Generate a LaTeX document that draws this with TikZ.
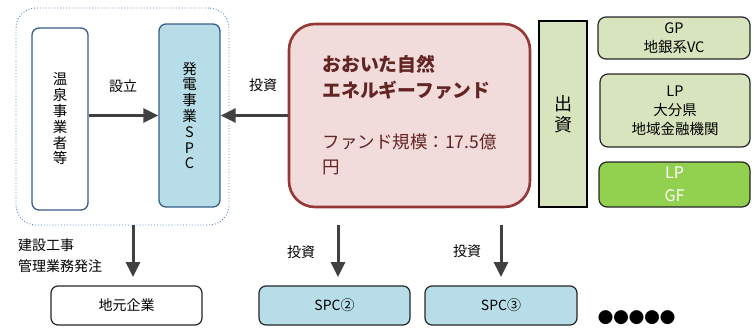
\documentclass[tikz,border=0pt]{standalone}
\usepackage{fontspec}
\setmainfont{Noto Sans CJK JP}
\usetikzlibrary{arrows.meta}
\definecolor{arrowgray}{HTML}{404040}
\definecolor{grpblue}{HTML}{4F81BD}
\definecolor{boxblue}{HTML}{385D8A}
\definecolor{spcfill}{HTML}{B7DEE8}
\definecolor{fundfill}{HTML}{F2DCDB}
\definecolor{funddraw}{HTML}{953735}
\definecolor{fundtext}{HTML}{632523}
\definecolor{greenfill}{HTML}{D7E4BD}
\definecolor{gffill}{HTML}{92D050}
\definecolor{darkline}{HTML}{262626}
\begin{document}
\begin{tikzpicture}[x=1pt,y=-1pt,
  arr/.style={line width=3pt, draw=arrowgray, -{Triangle[length=15pt,width=14pt]}},
  grpbox/.style={draw=grpblue, dotted, line width=0.9pt, rounded corners=20pt, inner sep=0pt},
  vbox/.style={draw=boxblue, line width=1.3pt, rounded corners=7pt, inner sep=0pt, align=center,
    font=\fontsize{14.5}{15.8}\selectfont},
  fundbox/.style={draw=funddraw, fill=fundfill, line width=2.6pt, rounded corners=26pt, inner sep=0pt,
    align=left, text=fundtext, font=\fontsize{17.5}{25.5}\selectfont},
  shbox/.style={draw=black, fill=greenfill, line width=1.8pt, inner sep=0pt, align=center,
    font=\fontsize{18}{21}\selectfont},
  gbox/.style={draw=darkline, fill=greenfill, line width=1.2pt, rounded corners=8pt, inner sep=0pt,
    align=center, font=\fontsize{14.5}{19}\selectfont},
  bbox/.style={draw=darkline, line width=1.2pt, rounded corners=7pt, inner sep=0pt,
    minimum width=151pt, minimum height=39pt, font=\fontsize{14}{16}\selectfont},
  lbl/.style={inner sep=0pt, font=\fontsize{14}{21}\selectfont}
]
\useasboundingbox (0,0) rectangle (754,327);

% group
\node[grpbox, minimum width=213pt, minimum height=217pt] (grp) at (122.5,116.5) {};
\node[vbox, fill=white, minimum width=56pt, minimum height=182pt] (onsen) at (60,119)
  {温\\泉\\事\\業\\者\\等};
\node[vbox, fill=spcfill, minimum width=61pt, minimum height=183pt] (spc) at (189.5,115.5)
  {発\\電\\事\\業\\S\\P\\C};

% fund
\node[fundbox, minimum width=241pt, minimum height=183pt] (fund) at (409.5,115.5)
  {\textbf{\fontsize{18.8}{25.5}\selectfont おおいた自然}\\
   \textbf{\fontsize{18.8}{25.5}\selectfont エネルギーファンド}\\[25.5pt]
   ファンド規模：17.5億\\
   円};

% investment column
\node[shbox, minimum width=48pt, minimum height=186pt] (shusshi) at (563,114) {出\\資};
\node[gbox, minimum width=152pt, minimum height=42pt] (gp) at (674,38) {GP\\地銀系VC};
\node[gbox, minimum width=150pt, minimum height=73pt] (lp1) at (675,110.5) {LP\\大分県\\地域金融機関};
\node[gbox, fill=gffill, text=white, minimum width=151pt, minimum height=45pt,
  font=\fontsize{16}{23}\selectfont] (lpgf) at (674.5,184.5) {LP\\GF};

% bottom boxes
\node[bbox, fill=white] (jimoto) at (126.5,305.5) {地元企業};
\node[bbox, fill=spcfill] (spc2) at (334.5,305.5) {SPC②};
\node[bbox, fill=spcfill, minimum width=152pt] (spc3) at (501,305.5) {SPC③};
\node[inner sep=0pt, font=\fontsize{15.5}{16}\selectfont] (dots) at (636.5,318) {●●●●●};

% horizontal arrows
\draw[arr] (onsen.east |- spc.west) -- (spc.west);
\draw[arr] (fund.west) -- (spc.east);
\node[lbl] (l1) at (123,86) {設立};
\node[lbl] (l2) at (263,85) {投資};

% vertical arrows
\coordinate (e1) at (133,277);
\draw[arr] (grp.south -| e1) -- (e1);
\node[lbl, align=left, anchor=west] (l3) at (18,256) {建設工事\\管理業務発注};

\coordinate (s2) at (338,225);
\coordinate (e2) at (338,277);
\draw[arr] (s2) -- (e2);
\node[lbl] (l4) at (301,252) {投資};

\coordinate (s3) at (501,225);
\coordinate (e3) at (501,277);
\draw[arr] (s3) -- (e3);
\node[lbl] (l5) at (467,251) {投資};
\end{tikzpicture}
\end{document}
